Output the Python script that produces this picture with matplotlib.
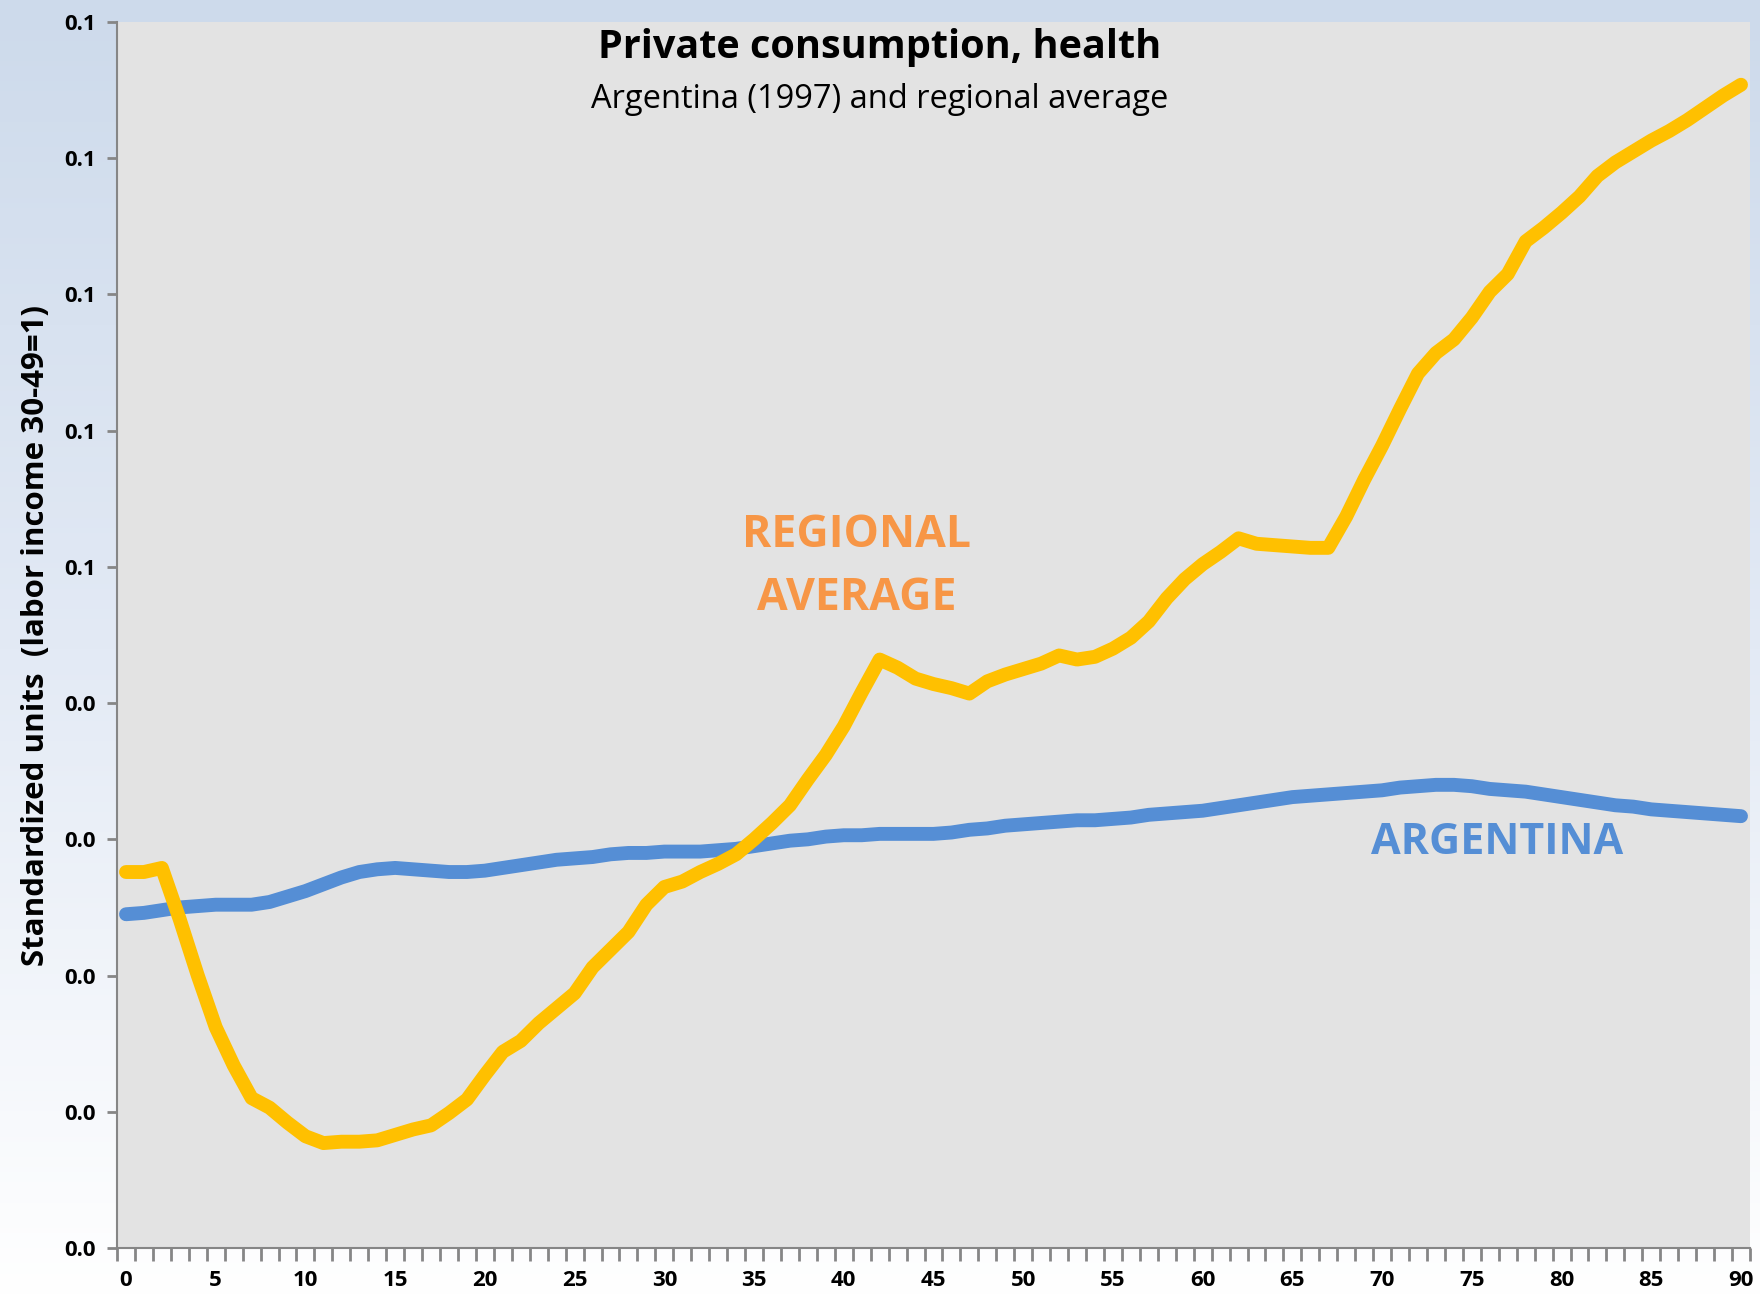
import matplotlib.pyplot as plt
from matplotlib.ticker import FixedLocator, FormatStrFormatter, NullFormatter
from matplotlib.colors import LinearSegmentedColormap
import numpy as np

# %%
ages = list(range(0, 91))

regional = [
    0.0276, 0.0276, 0.0279, 0.0241, 0.0200, 0.0162, 0.0134, 0.0110, 0.0103, 0.0092,
    0.0082, 0.0077, 0.0078, 0.0078, 0.0079, 0.0083, 0.0087, 0.0090, 0.0099, 0.0109,
    0.0127, 0.0144, 0.0152, 0.0165, 0.0176, 0.0187, 0.0206, 0.0219, 0.0232, 0.0252,
    0.0265, 0.0269, 0.0276, 0.0282, 0.0289, 0.0300, 0.0312, 0.0325, 0.0344, 0.0362,
    0.0383, 0.0408, 0.0432, 0.0426, 0.0418, 0.0414, 0.0411, 0.0407, 0.0416, 0.0421,
    0.0425, 0.0429, 0.0435, 0.0432, 0.0434, 0.0440, 0.0448, 0.0460, 0.0477, 0.0491,
    0.0502, 0.0511, 0.0521, 0.0517, 0.0516, 0.0515, 0.0514, 0.0514, 0.0537, 0.0564,
    0.0589, 0.0616, 0.0642, 0.0657, 0.0667, 0.0683, 0.0702, 0.0715, 0.0739, 0.0749,
    0.0760, 0.0772, 0.0787, 0.0797, 0.0805, 0.0813, 0.0820, 0.0828, 0.0837, 0.0846,
    0.0854,
]

argentina = [
    0.0245, 0.0246, 0.0248, 0.0250, 0.0251, 0.0252, 0.0252, 0.0252, 0.0254, 0.0258,
    0.0262, 0.0267, 0.0272, 0.0276, 0.0278, 0.0279, 0.0278, 0.0277, 0.0276, 0.0276,
    0.0277, 0.0279, 0.0281, 0.0283, 0.0285, 0.0286, 0.0287, 0.0289, 0.0290, 0.0290,
    0.0291, 0.0291, 0.0291, 0.0292, 0.0293, 0.0295, 0.0297, 0.0299, 0.0300, 0.0302,
    0.0303, 0.0303, 0.0304, 0.0304, 0.0304, 0.0304, 0.0305, 0.0307, 0.0308, 0.0310,
    0.0311, 0.0312, 0.0313, 0.0314, 0.0314, 0.0315, 0.0316, 0.0318, 0.0319, 0.0320,
    0.0321, 0.0323, 0.0325, 0.0327, 0.0329, 0.0331, 0.0332, 0.0333, 0.0334, 0.0335,
    0.0336, 0.0338, 0.0339, 0.0340, 0.0340, 0.0339, 0.0337, 0.0336, 0.0335, 0.0333,
    0.0331, 0.0329, 0.0327, 0.0325, 0.0324, 0.0322, 0.0321, 0.0320, 0.0319, 0.0318,
    0.0317,
]

y_ticks = [0.00, 0.01, 0.02, 0.03, 0.04, 0.05, 0.06, 0.07, 0.08, 0.09]
x_labels = list(range(0, 91, 5))

title = "Private consumption, health"
subtitle = "Argentina (1997) and regional average"
ylabel = "Standardized units  (labor income 30-49=1)"

# %%
plt.rcParams["font.family"] = ["Open Sans", "DejaVu Sans"]

fig = plt.figure(figsize=(17.6, 12.99), dpi=100)

# slide background: light blue at the top fading to white
bg = fig.add_axes([0, 0, 1, 1], zorder=-10)
cmap = LinearSegmentedColormap.from_list("slide", ["#cddaeb", "#e3eaf5", "#ffffff"])
grad = np.linspace(0, 1, 256).reshape(-1, 1)
bg.imshow(grad, aspect="auto", cmap=cmap, extent=[0, 1, 0, 1], origin="upper")
bg.set_axis_off()

ax = fig.add_axes([0.0665, 0.0393, 0.9278, 0.9437])
ax.set_facecolor("#e3e3e3")

ax.plot(ages, argentina, color="#558ed5", linewidth=10, solid_capstyle="round", zorder=3)
ax.plot(ages, regional, color="#ffc000", linewidth=10, solid_capstyle="round", zorder=4)

ax.set_xlim(-0.5, 90.5)
ax.set_ylim(0, 0.09)

ax.yaxis.set_major_locator(FixedLocator(y_ticks))
ax.yaxis.set_major_formatter(FormatStrFormatter("%.1f"))
ax.xaxis.set_major_locator(FixedLocator(x_labels))
ax.xaxis.set_minor_locator(FixedLocator([a - 0.5 for a in ages] + [90.5]))
ax.xaxis.set_minor_formatter(NullFormatter())

ax.tick_params(axis="y", length=7, width=2, color="#868686", labelsize=16, pad=8)
ax.tick_params(axis="x", which="major", length=0, labelsize=16, pad=16)
ax.tick_params(axis="x", which="minor", length=9, width=2, color="#868686")
for lbl in ax.get_xticklabels() + ax.get_yticklabels():
    lbl.set_fontweight("bold")

for side in ["top", "right"]:
    ax.spines[side].set_visible(False)
for side in ["left", "bottom"]:
    ax.spines[side].set_color("#868686")
    ax.spines[side].set_linewidth(1.5)

ax.set_ylabel(ylabel, fontsize=22.5, fontweight="bold", labelpad=10)

ax.text(42.0, 0.0881, title, fontsize=28.5, fontweight="bold", ha="center", va="center")
ax.text(42.0, 0.0843, subtitle, fontsize=23.5, ha="center", va="center")

ax.text(40.7, 0.0523, "REGIONAL", fontsize=32, fontweight="bold", color="#f79646",
        ha="center", va="center")
ax.text(40.7, 0.0477, "AVERAGE", fontsize=32, fontweight="bold", color="#f79646",
        ha="center", va="center")
ax.text(76.4, 0.0298, "ARGENTINA", fontsize=31, fontweight="bold", color="#558ed5",
        ha="center", va="center")

plt.savefig("out.png", dpi=100)
